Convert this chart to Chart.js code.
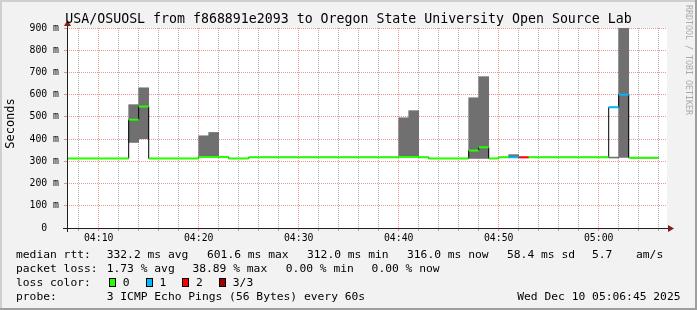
<!DOCTYPE html>
<html>
<head>
<meta charset="utf-8">
<script src="https://cdn.jsdelivr.net/npm/chart.js@4.4.1/dist/chart.umd.min.js"></script>
<style>
  html, body { margin: 0; padding: 0; background: #f2f2f2; }
  canvas { display: block; }
</style>
</head>
<body>
<canvas id="c" width="697" height="310"></canvas>
<script>
const title = 'USA/OSUOSL from f868891e2093 to Oregon State University Open Source Lab';

// one value per minute, first one is 04:06
const firstMinute = 6;
const medianRtt = [
  313, 313, 313, 313, 313, 313, 313, 487, 547, 313,
  313, 313, 313, 313, 319, 319, 319, 313, 313, 318,
  318, 318, 318, 318, 318, 318, 318, 318, 318, 318,
  318, 318, 318, 318, 319, 319, 318, 313, 313, 313,
  313, 349, 363, 313, 318, 318, 318, 318, 318, 318,
  318, 318, 318, 318, 318, 543, 600, 316, 316, 316
];
const lossCount = [
  0, 0, 0, 0, 0, 0, 0, 0, 0, 0,
  0, 0, 0, 0, 0, 0, 0, 0, 0, 0,
  0, 0, 0, 0, 0, 0, 0, 0, 0, 0,
  0, 0, 0, 0, 0, 0, 0, 0, 0, 0,
  0, 0, 0, 0, 0, 1, 2, 0, 0, 0,
  0, 0, 0, 0, 0, 1, 1, 0, 0, 0
];

// smoke (min..max of the pings) where it shows above the median line
const smokeMinute = [13, 14, 20, 21, 40, 41, 47, 48, 51, 61, 62];
const smokeLow    = [385, 402, 319, 319, 319, 319, 313, 313, 318, 315, 318];
const smokeHigh   = [555, 631, 415, 430, 496, 528, 586, 681, 330, 319, 960];

const xGridMinutes = [8, 10, 12, 14, 16, 18, 20, 22, 24, 26, 28, 30, 32, 34, 36, 38,
  40, 42, 44, 46, 48, 50, 52, 54, 56, 58, 60, 62, 64, 66];
const yGridValues = [0, 50, 100, 150, 200, 250, 300, 350, 400, 450, 500, 550, 600,
  650, 700, 750, 800, 850, 900];

const lossColors = ['#26ff00', '#00b8ff', '#ff0000', '#a00000'];
const lossLabels = ['0', '1', '2', '3/3'];
const rttStats = ['332.2 ms avg', '601.6 ms max', '312.0 ms min', '316.0 ms now', '58.4 ms sd', '5.7', 'am/s'];
const lossStats = ['1.73 % avg', '38.89 % max', '0.00 % min', '0.00 % now'];
const probeText = '3 ICMP Echo Pings (56 Bytes) every 60s';
const stampText = 'Wed Dec 10 05:06:45 2025';

const MINOR = 'rgba(143,143,143,0.75)';
const MAJOR = 'rgba(222,79,79,0.6)';
const MONO = '"DejaVu Sans Mono", monospace';
const tickFont = { family: 'DejaVu Sans Mono', size: 9.8 };

function hhmm(v) {
  const h = 4 + Math.floor(v / 60), m = v % 60;
  return String(h).padStart(2, '0') + ':' + String(m).padStart(2, '0');
}

const stepPts = medianRtt.map((v, i) => ({ x: firstMinute + i, y: v }));
stepPts.push({ x: firstMinute + medianRtt.length, y: medianRtt[medianRtt.length - 1] });

function lossSegments(c) {
  const pts = [];
  medianRtt.forEach((v, i) => {
    if (lossCount[i] !== c) return;
    const m = firstMinute + i;
    pts.push({ x: m, y: v }, { x: m + 1, y: v }, { x: m + 1, y: null });
  });
  return pts;
}

const medianSets = [0, 1, 2].map(c => ({
  type: 'line',
  data: lossSegments(c),
  borderColor: lossColors[c],
  borderWidth: 2,
  borderCapStyle: 'butt',
  pointRadius: 0,
  spanGaps: false,
  tension: 0,
  order: 1
}));

const paper = {
  id: 'paper',
  beforeDraw(chart) {
    const { ctx, chartArea: a } = chart;
    ctx.save();
    ctx.fillStyle = '#f2f2f2';
    ctx.fillRect(0, 0, chart.width, chart.height);
    ctx.fillStyle = '#ffffff';
    ctx.fillRect(a.left, a.top, a.right - a.left, a.bottom - a.top);
    ctx.restore();
  },
  afterDraw(chart) {
    const { ctx, chartArea: a } = chart;
    const W = chart.width, H = chart.height;
    ctx.save();

    // axes with arrows
    ctx.strokeStyle = '#1f1f1f';
    ctx.lineWidth = 1;
    ctx.beginPath();
    ctx.moveTo(a.left - 4, a.bottom + 0.5);
    ctx.lineTo(a.right + 2, a.bottom + 0.5);
    ctx.moveTo(a.left + 0.5, a.bottom + 4);
    ctx.lineTo(a.left + 0.5, a.top - 4);
    ctx.stroke();
    ctx.fillStyle = '#801f1f';
    ctx.beginPath();
    ctx.moveTo(a.right + 1, a.bottom - 3);
    ctx.lineTo(a.right + 7, a.bottom + 0.5);
    ctx.lineTo(a.right + 1, a.bottom + 4);
    ctx.closePath();
    ctx.fill();
    ctx.beginPath();
    ctx.moveTo(a.left - 3, a.top - 2);
    ctx.lineTo(a.left + 0.5, a.top - 8);
    ctx.lineTo(a.left + 4, a.top - 2);
    ctx.closePath();
    ctx.fill();

    // frame shading
    ctx.fillStyle = '#cfcfcf';
    ctx.fillRect(0, 0, W, 2);
    ctx.fillRect(0, 0, 2, H);
    ctx.fillStyle = '#9e9e9e';
    ctx.fillRect(0, H - 2, W, 2);
    ctx.fillRect(W - 2, 0, 2, H);

    // title
    ctx.fillStyle = '#000';
    ctx.font = '13.25px ' + MONO;
    ctx.textAlign = 'center';
    ctx.textBaseline = 'alphabetic';
    ctx.fillText(title, W / 2, 23);

    // vertical label
    ctx.save();
    ctx.translate(14, 123.5);
    ctx.rotate(-Math.PI / 2);
    ctx.font = '12px ' + MONO;
    ctx.fillText('Seconds', 0, 0);
    ctx.restore();

    // watermark
    ctx.save();
    ctx.translate(686, 60);
    ctx.rotate(Math.PI / 2);
    ctx.font = '8.3px ' + MONO;
    ctx.fillStyle = '#aaaaaa';
    ctx.fillText('RRDTOOL / TOBI OETIKER', 0, 0);
    ctx.restore();

    // legend
    ctx.font = '11.3px ' + MONO;
    ctx.textAlign = 'left';
    ctx.fillStyle = '#000';
    ctx.fillText('median rtt:', 16, 258);
    [106.7, 207, 307, 407, 507, 592, 636].forEach((x, i) => ctx.fillText(rttStats[i], x, 258));
    ctx.fillText('packet loss:', 16, 272);
    [106.7, 192.4, 285.8, 371.6].forEach((x, i) => ctx.fillText(lossStats[i], x, 272));
    ctx.fillText('loss color:', 16, 286);
    lossLabels.forEach((lab, i) => {
      const bx = 109 + i * 36.7;
      ctx.fillStyle = lossColors[i];
      ctx.fillRect(Math.round(bx), 278, 7, 9);
      ctx.strokeStyle = '#000';
      ctx.strokeRect(Math.round(bx) + 0.5, 278.5, 6, 8);
      ctx.fillStyle = '#000';
      ctx.fillText(lab, bx + 13.7, 286);
    });
    ctx.fillText('probe:', 16, 300);
    ctx.fillText(probeText, 106.7, 300);
    ctx.textAlign = 'right';
    ctx.fillText(stampText, 680.5, 300);

    ctx.restore();
  }
};

new Chart(document.getElementById('c'), {
  type: 'line',
  data: {
    datasets: [
      {
        type: 'bar',
        data: smokeMinute.map((m, i) => ({ x: m + 0.5, y: [smokeLow[i], smokeHigh[i]] })),
        backgroundColor: '#707070',
        borderWidth: 0,
        barPercentage: 1,
        categoryPercentage: 1,
        order: 3
      },
      {
        type: 'line',
        data: stepPts,
        stepped: 'before',
        borderColor: '#000000',
        borderWidth: 1,
        pointRadius: 0,
        order: 2
      },
      ...medianSets
    ]
  },
  options: {
    responsive: false,
    animation: false,
    devicePixelRatio: 1,
    events: [],
    layout: { padding: { top: 28, right: 30, bottom: 0, left: 0 } },
    plugins: { legend: { display: false }, tooltip: { enabled: false }, title: { display: false } },
    scales: {
      x: {
        type: 'linear',
        min: 6.83,
        max: 66.83,
        offset: false,
        afterFit: s => { s.height = 82; },
        afterBuildTicks: s => { s.ticks = xGridMinutes.map(v => ({ value: v })); },
        grid: {
          offset: false,
          color: c => (c.tick && c.tick.value % 10 === 0) ? MAJOR : MINOR,
          tickLength: 3
        },
        border: { display: false, dash: [1, 1] },
        ticks: {
          autoSkip: false,
          maxRotation: 0,
          padding: 2,
          color: '#000',
          font: tickFont,
          callback: v => v % 10 === 0 ? hhmm(v) : ''
        }
      },
      y: {
        min: 0,
        max: 900,
        afterFit: s => { s.width = 67; },
        afterBuildTicks: s => { s.ticks = yGridValues.map(v => ({ value: v })); },
        grid: {
          color: c => (c.tick && c.tick.value % 100 === 0) ? MAJOR : MINOR,
          tickLength: 3
        },
        border: { display: false, dash: [1, 1] },
        ticks: {
          padding: 5,
          color: '#000',
          font: tickFont,
          callback: v => v % 100 ? '' : (v === 0 ? '0  ' : v + ' m')
        }
      }
    }
  },
  plugins: [paper]
});
</script>
</body>
</html>
